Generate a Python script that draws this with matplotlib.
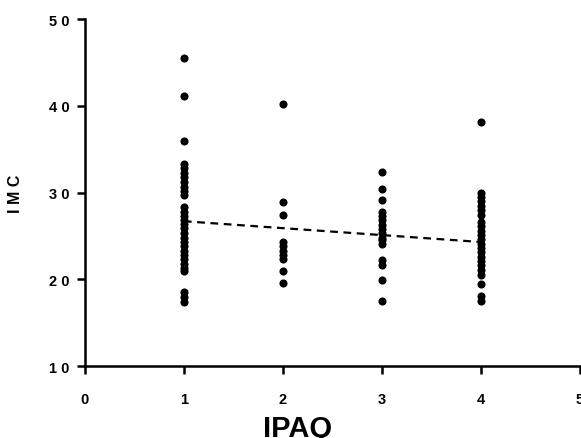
import matplotlib.pyplot as plt
import numpy as np

plt.rcParams['font.family'] = ['Liberation Sans', 'DejaVu Sans']
plt.rcParams['font.weight'] = 'bold'

# IMC values per IPAQ group
imc_1 = [45.5, 41.1, 36.0, 33.3, 32.8, 32.3, 31.8, 31.2, 30.7, 30.2, 29.7,
         28.3, 27.8, 27.3, 26.8, 26.4, 25.9, 25.3, 24.8, 24.3, 23.8, 23.3,
         22.8, 22.3, 21.8, 21.3, 20.9, 18.5, 18.0, 17.4]
imc_2 = [40.2, 28.9, 27.4, 24.3, 23.8, 23.3, 22.8, 22.3, 21.0, 19.6]
imc_3 = [32.4, 30.4, 29.1, 27.8, 27.3, 26.8, 26.3, 25.8, 25.3, 24.8, 24.5,
         24.1, 22.2, 21.6, 19.9, 17.5]
imc_4 = [38.1, 30.0, 29.5, 29.0, 28.5, 28.0, 27.4, 26.6, 26.1, 25.6, 25.1,
         24.6, 24.1, 23.6, 23.1, 22.6, 22.1, 21.6, 21.1, 20.5, 19.5, 18.1, 17.5]
groups = [1, 2, 3, 4]

# regression line end points
fit_x = [1, 4]
fit_y = [26.7, 24.3]

fig = plt.figure(figsize=(5.81, 4.39), dpi=100)
ax = fig.add_axes([0.146, 0.164, 0.852, 0.79])

for g, vals in zip(groups, [imc_1, imc_2, imc_3, imc_4]):
    ax.scatter([g] * len(vals), vals, s=34, color='black', zorder=3, linewidths=0)

ax.plot(fit_x, fit_y, color='black', linestyle=(0, (3.5, 2.5)), linewidth=1.6)

ax.set_xlim(0, 5)
ax.set_ylim(10, 50)
ax.set_xticks(range(0, 6))
ax.set_yticks(range(10, 60, 10))
ax.set_yticklabels([' '.join(str(v)) for v in range(10, 60, 10)])
ax.spines['top'].set_visible(False)
ax.spines['right'].set_visible(False)
ax.spines['left'].set_linewidth(1.8)
ax.spines['bottom'].set_linewidth(1.8)
ax.tick_params(direction='out', length=6, width=1.8, labelsize=10.5)
ax.tick_params(axis='y', pad=5)
ax.tick_params(axis='x', pad=13)
for lab in ax.get_xticklabels() + ax.get_yticklabels():
    lab.set_fontweight('bold')

ax.set_ylabel('I M C', fontsize=11.5, fontweight='bold')
ax.yaxis.set_label_coords(-0.125, 0.5)
ax.set_xlabel('IPAQ', fontsize=21, fontweight='bold', va='top')
ax.xaxis.set_label_coords(0.43, -0.138)

fig.savefig('out.png', dpi=100)
